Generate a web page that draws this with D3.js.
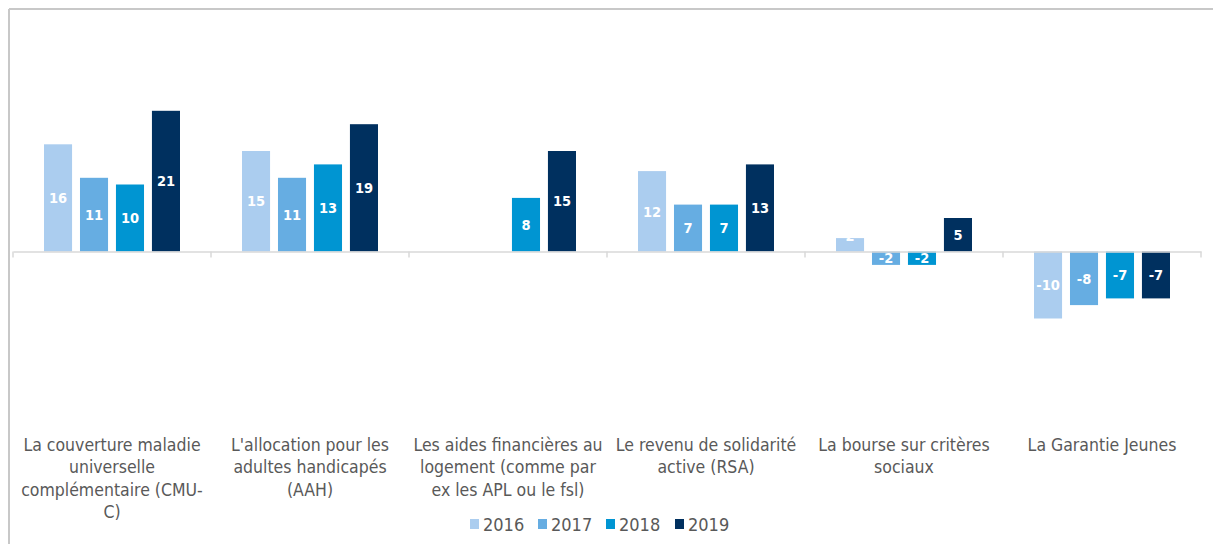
<!DOCTYPE html>
<html lang="fr">

<head>
    <meta charset="UTF-8">
    <title>Aides sociales</title>
    <style>
        body { margin: 0; background: #fff; }
        svg { display: block; }
        .cond { font-family: 'DejaVu Sans Condensed', 'DejaVu Sans', sans-serif; font-stretch: condensed; }
    </style>
</head>

<body>
    <div id="wrapper"></div>

    <script src="https://d3js.org/d3.v7.min.js"></script>
    <script>
        // données
        const categories = [
            "La couverture maladie universelle complémentaire (CMU-C)",
            "L'allocation pour les adultes handicapés (AAH)",
            "Les aides financières au logement (comme par ex les APL ou le fsl)",
            "Le revenu de solidarité active (RSA)",
            "La bourse sur critères sociaux",
            "La Garantie Jeunes"
        ];
        // lignes des étiquettes (retour à la ligne comme dans Excel)
        const categoryLines = [
            ["La couverture maladie", "universelle", "complémentaire (CMU-", "C)"],
            ["L'allocation pour les", "adultes handicapés", "(AAH)"],
            ["Les aides financières au", "logement (comme par", "ex les APL ou le fsl)"],
            ["Le revenu de solidarité", "active (RSA)"],
            ["La bourse sur critères", "sociaux"],
            ["La Garantie Jeunes"]
        ];
        const years = ["2016", "2017", "2018", "2019"];
        const values2016 = [16, 15, null, 12, 2, -10];
        const values2017 = [11, 11, null, 7, -2, -8];
        const values2018 = [10, 13, 8, 7, -2, -7];
        const values2019 = [21, 19, 15, 13, 5, -7];
        const colors = ["#abcdef", "#66ade2", "#0095d2", "#00305f"];

        const series = [values2016, values2017, values2018, values2019];

        const width = 1213,
            height = 544;

        const svg = d3.select('#wrapper').append('svg')
            .attr('width', width)
            .attr('height', height);

        // cadre (bord haut et gauche visibles)
        svg.append('line')
            .attr('x1', 9).attr('x2', width)
            .attr('y1', 9).attr('y2', 9)
            .attr('stroke', '#c8c8c8').attr('stroke-width', 2);
        svg.append('line')
            .attr('x1', 9).attr('x2', 9)
            .attr('y1', 9).attr('y2', height)
            .attr('stroke', '#c8c8c8').attr('stroke-width', 2);

        // échelles
        const x0 = d3.scaleBand()
            .domain(categories)
            .range([13, 1201])
            .padding(0);

        const x1 = d3.scaleBand()
            .domain(years)
            .range([31, x0.bandwidth() - 31])
            .paddingInner(0.22);

        const y = d3.scaleLinear()
            .domain([-25, 35])
            .range([419, 17]);

        // barres
        const groups = svg.append('g').attr('class', 'groups')
            .selectAll('g')
            .data(categories)
            .join('g')
            .attr('transform', d => `translate(${x0(d)},0)`);

        const bars = groups.selectAll('g.bar')
            .data((d, i) => years.map((yr, j) => ({ year: yr, value: series[j][i], color: colors[j] }))
                .filter(b => b.value !== null))
            .join('g')
            .attr('class', 'bar');

        bars.append('rect')
            .attr('x', d => x1(d.year))
            .attr('width', x1.bandwidth())
            .attr('y', d => y(Math.max(0, d.value)))
            .attr('height', d => Math.abs(y(d.value) - y(0)))
            .attr('fill', d => d.color);

        // étiquettes blanches centrées ; trop petite barre positive -> texte poussé au-dessus
        bars.append('text')
            .attr('class', 'cond')
            .attr('x', d => x1(d.year) + x1.bandwidth() / 2)
            .attr('y', d => {
                const h = Math.abs(y(d.value) - y(0));
                if (d.value > 0 && h < 16) return y(d.value) + 2.5;
                return (y(d.value) + y(0)) / 2 + 5.2;
            })
            .attr('text-anchor', 'middle')
            .attr('fill', '#fff')
            .style('font-size', '14.5px')
            .style('font-weight', 'bold')
            .text(d => d.value);

        // axe horizontal au zéro
        const xAxis = d3.axisBottom(x0)
            .tickValues([])
            .tickSizeOuter(0);
        const axisG = svg.append('g')
            .attr('class', 'x-axis')
            .attr('transform', `translate(0,${y(0)})`)
            .call(xAxis);
        axisG.select('.domain').attr('stroke', '#d9d9d9').attr('stroke-width', 1.5);

        // petites graduations aux limites des groupes
        const bounds = categories.map(c => x0(c)).concat([x0.range()[1]]);
        axisG.selectAll('line.sep')
            .data(bounds)
            .join('line')
            .attr('class', 'sep')
            .attr('x1', d => d).attr('x2', d => d)
            .attr('y1', 0).attr('y2', 6)
            .attr('stroke', '#d9d9d9').attr('stroke-width', 1.5);

        // étiquettes des catégories
        const labels = svg.append('g').attr('class', 'cat-labels')
            .selectAll('text')
            .data(categories)
            .join('text')
            .attr('class', 'cond')
            .attr('x', d => x0(d) + x0.bandwidth() / 2)
            .attr('y', 451)
            .attr('text-anchor', 'middle')
            .attr('fill', '#595959')
            .style('font-size', '17.5px');

        labels.selectAll('tspan')
            .data((d, i) => categoryLines[i])
            .join('tspan')
            .attr('x', function () { return this.parentNode.getAttribute('x'); })
            .attr('dy', (d, i) => i === 0 ? 0 : 22.3)
            .text(d => d);

        // légende
        const legendX = [470, 538, 606, 675];
        const legend = svg.append('g').attr('class', 'legend')
            .selectAll('g')
            .data(years)
            .join('g')
            .attr('transform', (d, i) => `translate(${legendX[i]},524)`);

        legend.append('rect')
            .attr('x', 0).attr('y', -5)
            .attr('width', 9).attr('height', 10)
            .attr('fill', (d, i) => colors[i]);

        legend.append('text')
            .attr('class', 'cond')
            .attr('x', 13)
            .attr('y', 6.5)
            .attr('fill', '#595959')
            .style('font-size', '18px')
            .text(d => d);
    </script>
</body>

</html>
